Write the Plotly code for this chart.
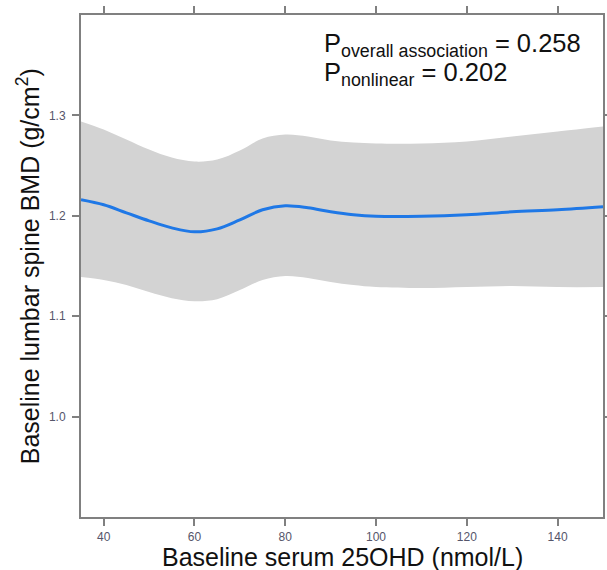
import plotly.graph_objects as go

# Data
vitd = [35, 40, 45, 50, 55, 60, 65, 70, 75, 80, 85, 90, 95, 100, 110, 120, 130, 140, 150]
bmd_fit = [1.216, 1.211, 1.203, 1.195, 1.188, 1.184, 1.187, 1.196, 1.206, 1.210,
           1.208, 1.204, 1.201, 1.1995, 1.1995, 1.201, 1.204, 1.206, 1.209]
bmd_upper = [1.294, 1.286, 1.276, 1.266, 1.258, 1.254, 1.256, 1.265, 1.277, 1.281,
             1.279, 1.275, 1.273, 1.272, 1.272, 1.274, 1.279, 1.284, 1.289]
bmd_lower = [1.139, 1.136, 1.131, 1.124, 1.118, 1.115, 1.117, 1.126, 1.136, 1.140,
             1.138, 1.134, 1.131, 1.129, 1.128, 1.129, 1.130, 1.129, 1.129]

x_ticks = [40, 60, 80, 100, 120, 140]
y_ticks = [1.0, 1.1, 1.2, 1.3]
y_ticklabels = ["1.0", "1.1", "1.2", "1.3"]

x_title = "Baseline serum 25OHD (nmol/L)"
y_title = "Baseline lumbar spine BMD (g/cm<sup>2</sup>)"
p_overall = "0.258"
p_nonlinear = "0.202"

fig = go.Figure()
fig.add_trace(go.Scatter(x=vitd, y=bmd_lower, mode="lines", line=dict(width=0, shape="spline"),
                         hoverinfo="skip", showlegend=False))
fig.add_trace(go.Scatter(x=vitd, y=bmd_upper, mode="lines", line=dict(width=0, shape="spline"),
                         fill="tonexty", fillcolor="#d3d3d3", hoverinfo="skip", showlegend=False))
fig.add_trace(go.Scatter(x=vitd, y=bmd_fit, mode="lines",
                         line=dict(color="#1f78e6", width=3, shape="spline"), showlegend=False))

axis_common = dict(showline=True, linecolor="#808080", linewidth=2, mirror="ticks",
                   ticks="outside", ticklen=7, tickwidth=2, tickcolor="#808080",
                   showgrid=False, zeroline=False, automargin=False,
                   tickfont=dict(family="Liberation Sans, Arial", size=12, color="#55556a"))

fig.update_xaxes(range=[35, 150], tickvals=x_ticks, ticklabelstandoff=1, **axis_common)
fig.update_yaxes(range=[0.9, 1.4], tickvals=y_ticks, ticktext=y_ticklabels,
                 ticklabelstandoff=4, **axis_common)

title_font = dict(family="Liberation Sans, Arial", size=25, color="#111111")
fig.add_annotation(xref="paper", yref="paper", x=0.5, y=-0.079, xanchor="center", yanchor="middle",
                   text=x_title, showarrow=False, font=title_font)
fig.add_annotation(xref="paper", yref="paper", x=-0.101, y=0.5, xanchor="center", yanchor="middle",
                   text=y_title, textangle=-90, showarrow=False, font=title_font)

ann_font = dict(family="Liberation Sans, Arial", size=25.5, color="#111111")
fig.add_annotation(xref="paper", yref="paper", x=0.462, y=0.940, xanchor="left", yanchor="middle",
                   text="P<sub>overall association</sub> = " + p_overall, showarrow=False, font=ann_font)
fig.add_annotation(xref="paper", yref="paper", x=0.462, y=0.882, xanchor="left", yanchor="middle",
                   text="P<sub>nonlinear</sub> = " + p_nonlinear, showarrow=False, font=ann_font)

fig.update_layout(width=607, height=570, margin=dict(l=81, r=4, t=15, b=53),
                  plot_bgcolor="white", paper_bgcolor="white")

# remove the default page margin so the figure fills the window exactly
fig.write_html("out.html", config={"displayModeBar": False},
               post_script="document.body.style.margin='0px';document.body.style.overflow='hidden';")
